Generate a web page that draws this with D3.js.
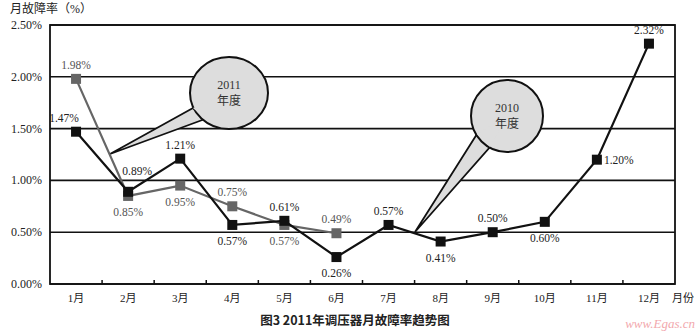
<!DOCTYPE html>
<html>
<head>
<meta charset="utf-8">
<script src="https://cdn.jsdelivr.net/npm/d3@7"></script>
<style>
  body { margin: 0; background: #fff; }
  text { font-family: "Liberation Serif", "Noto Sans CJK SC", serif; }
</style>
</head>
<body>
<div id="chart"></div>
<script>
var months = ['1月','2月','3月','4月','5月','6月','7月','8月','9月','10月','11月','12月'];
var rate2010 = [1.47, 0.89, 1.21, 0.57, 0.61, 0.26, 0.57, 0.41, 0.50, 0.60, 1.20, 2.32];
var rate2011 = [1.98, 0.85, 0.95, 0.75, 0.57, 0.49];
// label side per point: 'a' above, 'b' below, 'r' right, 'al' above-left, 'ar' above-right
var side2010 = ['al','ar','a','b','a','b','a','b','a','b','r','a'];
var side2011 = ['a','b','b','a','b','a'];
var yTicks = [0, 0.5, 1.0, 1.5, 2.0, 2.5];

var chart = (function () {
  return { width: 700, height: 333, x0: 50, x1: 675, y0: 25, y1: 284 };
})();

var svg = d3.select('#chart').append('svg')
    .attr('width', chart.width)
    .attr('height', chart.height);

var x = d3.scaleBand().domain(months).range([chart.x0, chart.x1]).padding(0);
var y = d3.scaleLinear().domain([0, 2.5]).range([chart.y1, chart.y0]);
var cx = function (i) { return x(months[i]) + x.bandwidth() / 2; };

// grid lines
svg.selectAll('line.grid')
  .data(yTicks)
  .enter().append('line')
    .attr('x1', chart.x0).attr('x2', chart.x1)
    .attr('y1', function (d) { return y(d); })
    .attr('y2', function (d) { return y(d); })
    .attr('stroke', '#111')
    .attr('stroke-width', 1.6);

// frame
svg.append('rect')
  .attr('x', chart.x0).attr('y', chart.y0)
  .attr('width', chart.x1 - chart.x0).attr('height', chart.y1 - chart.y0)
  .attr('fill', 'none').attr('stroke', '#111').attr('stroke-width', 1.8);

// y axis labels
svg.selectAll('text.ylab')
  .data(yTicks)
  .enter().append('text')
    .attr('x', 42)
    .attr('y', function (d) { return y(d) + 4; })
    .attr('text-anchor', 'end')
    .attr('font-size', 12)
    .attr('fill', '#222')
    .text(function (d) { return d.toFixed(2) + '%'; });

// x ticks at category boundaries
svg.selectAll('line.xtick')
  .data(months.slice(1))
  .enter().append('line')
    .attr('x1', function (d) { return x(d); })
    .attr('x2', function (d) { return x(d); })
    .attr('y1', chart.y1).attr('y2', chart.y1 - 4)
    .attr('stroke', '#111').attr('stroke-width', 1.5);

svg.selectAll('text.xlab')
  .data(months)
  .enter().append('text')
    .attr('x', function (d) { return x(d) + x.bandwidth() / 2; })
    .attr('y', 302)
    .attr('text-anchor', 'middle')
    .attr('font-size', 11)
    .attr('fill', '#222')
    .text(function (d) { return d; });

svg.append('text').attr('x', 672).attr('y', 302)
  .attr('font-size', 11).attr('fill', '#222').text('月份');
svg.append('text').attr('x', 10).attr('y', 13)
  .attr('font-size', 12).attr('fill', '#222').text('月故障率（%）');

// callouts
function callout(ex, ey, rx, ry, tail, tip, lines) {
  var g = svg.append('g');
  var tri = 'M' + tail[0] + 'L' + tip + 'L' + tail[1] + 'Z';
  g.append('path').attr('d', tri).attr('fill', '#ddd')
    .attr('stroke', '#111').attr('stroke-width', 1.8);
  g.append('ellipse').attr('cx', ex).attr('cy', ey).attr('rx', rx).attr('ry', ry)
    .attr('fill', '#ddd').attr('stroke', '#111').attr('stroke-width', 2);
  g.append('path').attr('d', 'M' + tail[0] + 'L' + tail[1] + 'L' + [ex, ey] + 'Z')
    .attr('fill', '#ddd');
  g.selectAll('text').data(lines).enter().append('text')
    .attr('x', ex).attr('y', function (d, i) { return ey - 4 + i * 16; })
    .attr('text-anchor', 'middle').attr('font-size', 12).attr('fill', '#333')
    .text(function (d) { return d; });
}
callout(229, 93, 39, 36, [[193, 108], [205, 119]], [110, 154], ['2011', '年度']);
callout(507, 116, 36, 36, [[477, 134], [490, 147]], [415, 232], ['2010', '年度']);

// series
var line = d3.line()
  .x(function (d, i) { return cx(i); })
  .y(function (d) { return y(d); });

function series(data, color, sides, labelColor) {
  svg.append('path').datum(data)
    .attr('d', line)
    .attr('fill', 'none')
    .attr('stroke', color)
    .attr('stroke-width', 2.2);
  svg.selectAll(null).data(data).enter().append('rect')
    .attr('x', function (d, i) { return cx(i) - 5; })
    .attr('y', function (d) { return y(d) - 5; })
    .attr('width', 10).attr('height', 10)
    .attr('fill', color);
  svg.selectAll(null).data(data).enter().append('text')
    .attr('x', function (d, i) {
      var s = sides[i];
      return cx(i) + (s === 'r' ? 7 : s === 'al' ? -12 : s === 'ar' ? 9 : 0);
    })
    .attr('y', function (d, i) {
      var s = sides[i];
      return y(d) + (s === 'b' ? 20 : s === 'r' ? 4 : s === 'ar' ? -17 : -10);
    })
    .attr('text-anchor', function (d, i) { return sides[i] === 'r' ? 'start' : 'middle'; })
    .attr('font-size', 11.5)
    .attr('fill', labelColor)
    .text(function (d) { return d.toFixed(2) + '%'; });
}
series(rate2011, '#666', side2011, '#555');
series(rate2010, '#111', side2010, '#222');

// caption
svg.append('text').attr('x', 355).attr('y', 325)
  .attr('text-anchor', 'middle')
  .style('font-family', '"Noto Sans CJK SC", sans-serif')
  .attr('font-weight', 'bold').attr('font-size', 12.5).attr('fill', '#222')
  .text('图3 2011年调压器月故障率趋势图');

svg.append('text').attr('x', 695).attr('y', 328)
  .attr('text-anchor', 'end')
  .attr('font-style', 'italic').attr('font-size', 13)
  .attr('fill', '#f2a8ad')
  .text('www.Egas.cn');
</script>
</body>
</html>
